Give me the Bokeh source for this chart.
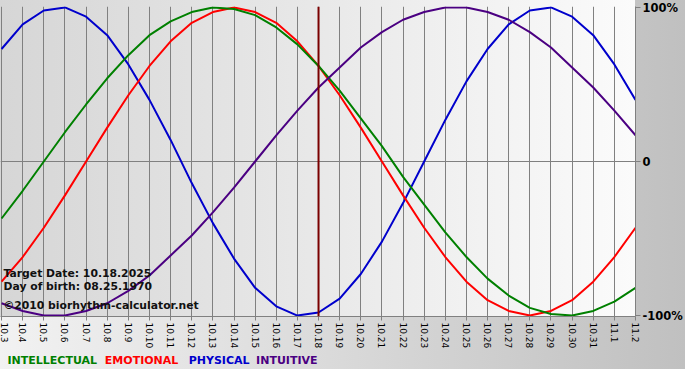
import math
from bokeh.plotting import figure
from bokeh.layouts import column
from bokeh.models import Range1d, FixedTicker, Span, Label
from bokeh.core.properties import value
from bokeh.embed import file_html
from bokeh.resources import INLINE

# ---- data ----
dates = ["10.3", "10.4", "10.5", "10.6", "10.7", "10.8", "10.9", "10.10", "10.11",
         "10.12", "10.13", "10.14", "10.15", "10.16", "10.17", "10.18", "10.19",
         "10.20", "10.21", "10.22", "10.23", "10.24", "10.25", "10.26", "10.27",
         "10.28", "10.29", "10.30", "10.31", "11.1", "11.2"]

intellectual = [-0.37, -0.19, 0.00, 0.19, 0.37, 0.54, 0.69, 0.82, 0.91, 0.97, 1.00,
                0.99, 0.95, 0.87, 0.76, 0.62, 0.46, 0.28, 0.10, -0.10, -0.28, -0.46,
                -0.62, -0.76, -0.87, -0.95, -0.99, -1.00, -0.97, -0.91, -0.82]
emotional = [-0.78, -0.62, -0.43, -0.22, 0.00, 0.22, 0.43, 0.62, 0.78, 0.90, 0.97,
             1.00, 0.97, 0.90, 0.78, 0.62, 0.43, 0.22, 0.00, -0.22, -0.43, -0.62,
             -0.78, -0.90, -0.97, -1.00, -0.97, -0.90, -0.78, -0.62, -0.43]
physical = [0.73, 0.89, 0.98, 1.00, 0.94, 0.82, 0.63, 0.40, 0.14, -0.14, -0.40,
            -0.63, -0.82, -0.94, -1.00, -0.98, -0.89, -0.73, -0.52, -0.27, 0.00,
            0.27, 0.52, 0.73, 0.89, 0.98, 1.00, 0.94, 0.82, 0.63, 0.40]
intuitive = [-0.92, -0.97, -1.00, -1.00, -0.97, -0.92, -0.84, -0.74, -0.61, -0.48,
             -0.33, -0.17, 0.00, 0.17, 0.33, 0.48, 0.61, 0.74, 0.84, 0.92, 0.97,
             1.00, 1.00, 0.97, 0.92, 0.84, 0.74, 0.61, 0.48, 0.33, 0.17]

series_names = ["INTELLECTUAL", "EMOTIONAL", "PHYSICAL", "INTUITIVE"]
series_colors = ["#008000", "#ff0000", "#0000cc", "#4b0082"]

right_ticks = [-1, 0, 1]
right_labels = ["-100%", "0", "100%"]

target_date = "10.18"
info_lines = ["Target Date: 10.18.2025", "Day of birth: 08.25.1970",
              "\u00a92010 biorhythm-calculator.net"]

# ---- main figure ----
x = list(range(len(dates)))
FONT = "DejaVu Sans"
FRAME_W = 635

p = figure(frame_width=FRAME_W, frame_height=310,
           min_border_left=0, min_border_right=49, min_border_top=6, min_border_bottom=30,
           x_range=Range1d(-0.05, len(dates) - 1),
           y_range=Range1d(-1.006, 1.006),
           y_axis_location="right",
           output_backend="svg", toolbar_location=None)

p.background_fill_alpha = 0
p.border_fill_alpha = 0
p.outline_line_color = None

# x axis
p.xaxis.ticker = FixedTicker(ticks=x)
p.xaxis.major_label_overrides = {i: d for i, d in enumerate(dates)}
p.xaxis.major_label_orientation = -math.pi / 2
p.xaxis.major_label_text_font = FONT
p.xaxis.major_label_text_font_size = "9px"
p.xaxis.major_label_text_color = "#000000"
p.xaxis.major_label_standoff = 2
p.xaxis.major_tick_out = 4
p.xaxis.major_tick_in = 0
p.xaxis.minor_tick_line_color = None
p.xaxis.major_tick_line_color = "#808080"
p.xaxis.axis_line_color = "#808080"

# right axis
p.yaxis.ticker = FixedTicker(ticks=right_ticks)
p.yaxis.major_label_overrides = {t: l for t, l in zip(right_ticks, right_labels)}
p.yaxis.major_label_text_font = FONT
p.yaxis.major_label_text_font_size = "11.5px"
p.yaxis.major_label_text_font_style = "bold"
p.yaxis.major_label_text_color = "#000000"
p.yaxis.major_label_standoff = 2
p.yaxis.major_tick_out = 5
p.yaxis.major_tick_in = 0
p.yaxis.minor_tick_line_color = None
p.yaxis.major_tick_line_color = "#808080"
p.yaxis.axis_line_color = "#808080"

# grids
p.xgrid.grid_line_color = "#808080"
p.xgrid.grid_line_alpha = 1.0
p.ygrid.ticker = FixedTicker(ticks=[0])
p.ygrid.grid_line_color = "#808080"
p.ygrid.grid_line_alpha = 1.0

# curves
series = {"INTELLECTUAL": intellectual, "EMOTIONAL": emotional,
          "PHYSICAL": physical, "INTUITIVE": intuitive}
for name in ["PHYSICAL", "EMOTIONAL", "INTELLECTUAL", "INTUITIVE"]:
    c = series_colors[series_names.index(name)]
    p.line(x, series[name], line_color=c, line_width=2)

# target date line
p.add_layout(Span(location=dates.index(target_date), dimension="height",
                  line_color="#7a0000", line_width=2))

# info texts inside plot
for txt, yb in zip(info_lines, [43, 30.5, 11]):
    p.add_layout(Label(x=3, y=yb, x_units="screen", y_units="screen", text=txt,
                       text_font=FONT, text_font_size="10.8px", text_font_style="bold",
                       text_color="#111111", text_baseline="alphabetic"))

# ---- legend strip (coloured words); its frame is aligned with the main frame ----
leg = figure(width=684, height=18, min_border=0,
             x_range=Range1d(0, FRAME_W), y_range=Range1d(0, 18),
             x_axis_type=None, y_axis_type=None,
             output_backend="svg", toolbar_location=None)
leg.background_fill_alpha = 0
leg.border_fill_alpha = 0
leg.outline_line_color = None
leg.xgrid.visible = False
leg.ygrid.visible = False
leg.text(x=[7, 104.5, 188.5, 256], y=[9, 9, 9, 9], text=series_names,
         text_color=series_colors, text_font=value(FONT), text_font_style="bold",
         text_font_size="11px", text_baseline="middle", text_align="left")

layout = column(p, leg, spacing=0, styles={
    "background": "linear-gradient(to right, #d6d6d6, #fbfbfb) 0px 0px / 635px 316px no-repeat, "
                  "linear-gradient(to right, #f2f2f2, #c0c0c0)"
})

open("out.html", "w").write(file_html(layout, INLINE))
